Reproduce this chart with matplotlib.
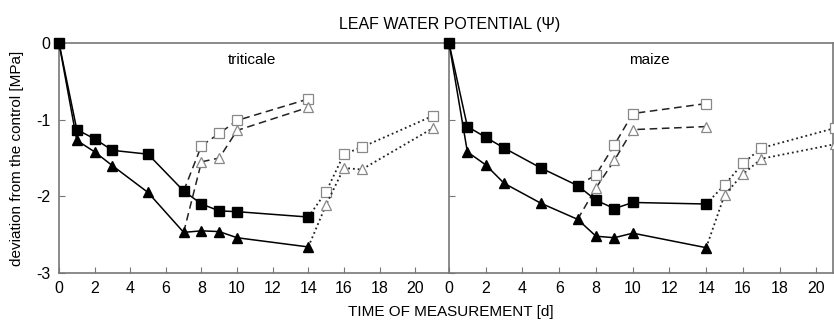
import numpy as np
import matplotlib.pyplot as plt

plt.rcParams['font.family'] = ['Liberation Sans', 'DejaVu Sans']

# drought phase (solid, filled markers)
days_stress = [0, 1, 2, 3, 5, 7, 8, 9, 10, 14]
# recovery after day 7 (dashed) and after day 14 (dotted)
days_rec7 = [7, 8, 9, 10, 14]
days_rec14 = [14, 15, 16, 17, 21]

tri_sq = [0, -1.13, -1.25, -1.40, -1.45, -1.93, -2.10, -2.19, -2.20, -2.27]
tri_tr = [0, -1.27, -1.42, -1.60, -1.95, -2.47, -2.45, -2.46, -2.54, -2.66]
tri_sq_r7 = [-1.93, -1.34, -1.18, -1.01, -0.73]
tri_tr_r7 = [-2.47, -1.55, -1.50, -1.14, -0.84]
tri_sq_r14 = [-2.27, -1.94, -1.45, -1.36, -0.95]
tri_tr_r14 = [-2.66, -2.11, -1.63, -1.65, -1.11]

mai_sq = [0, -1.09, -1.23, -1.37, -1.63, -1.86, -2.05, -2.16, -2.08, -2.10]
mai_tr = [0, -1.42, -1.59, -1.83, -2.09, -2.30, -2.52, -2.54, -2.48, -2.67]
mai_sq_r7 = [-1.86, -1.72, -1.33, -0.92, -0.79]
mai_tr_r7 = [-2.30, -1.89, -1.53, -1.13, -1.09]
mai_sq_r14 = [-2.10, -1.85, -1.57, -1.37, -1.11]
mai_tr_r14 = [-2.67, -1.98, -1.71, -1.51, -1.32]

fig = plt.figure(figsize=(8.34, 3.2), dpi=100)
W, H = 834, 320
ax1 = fig.add_axes([59/W, 1-273/H, 390/W, 230/H])
ax2 = fig.add_axes([449/W, 1-273/H, 384/W, 230/H])

spine_col = '#777777'
open_col = '#888888'

def draw(ax, sq, tr, sq7, tr7, sq14, tr14):
    ax.plot(days_stress, sq, '-', color='black', lw=1.1, marker='s', ms=6.5,
            mfc='black', mec='black', clip_on=False, zorder=5)
    ax.plot(days_stress, tr, '-', color='black', lw=1.1, marker='^', ms=6.5,
            mfc='black', mec='black', clip_on=False, zorder=5)
    ax.plot(days_rec7, sq7, '--', color='#222222', lw=1.1, dashes=(5, 3),
            marker='s', ms=6.5, mfc='white', mec=open_col, mew=0.9, markevery=[1, 2, 3, 4], zorder=4)
    ax.plot(days_rec7, tr7, '--', color='#222222', lw=1.1, dashes=(5, 3),
            marker='^', ms=6.5, mfc='white', mec=open_col, mew=0.9, markevery=[1, 2, 3, 4], zorder=4)
    ax.plot(days_rec14, sq14, ':', color='#222222', lw=1.3,
            marker='s', ms=6.5, mfc='white', mec=open_col, mew=0.9, markevery=[1, 2, 3, 4], zorder=4)
    ax.plot(days_rec14, tr14, ':', color='#222222', lw=1.3,
            marker='^', ms=6.5, mfc='white', mec=open_col, mew=0.9, markevery=[1, 2, 3, 4], zorder=4)
    ax.set_ylim(-3, 0)
    ax.set_xticks(range(0, 21, 2))
    ax.set_yticks([0, -1, -2, -3])
    ax.tick_params(direction='in', length=4, color=spine_col, labelsize=11.5, pad=6)
    for s in ax.spines.values():
        s.set_color(spine_col)
        s.set_linewidth(1.2)

draw(ax1, tri_sq, tri_tr, tri_sq_r7, tri_tr_r7, tri_sq_r14, tri_tr_r14)
draw(ax2, mai_sq, mai_tr, mai_sq_r7, mai_tr_r7, mai_sq_r14, mai_tr_r14)

ax1.set_xlim(0, 21.9)
ax2.set_xlim(0, 20.9)
ax1.spines['right'].set_visible(False)
ax1.set_yticklabels(['0', '-1', '-2', '-3'])
ax2.tick_params(labelleft=False)

ax1.text(0.495, 0.926, 'triticale', transform=ax1.transAxes, ha='center', va='center', fontsize=11)
ax2.text(0.523, 0.926, 'maize', transform=ax2.transAxes, ha='center', va='center', fontsize=11)

fig.text(450/W, 1-25/H, 'LEAF WATER POTENTIAL (\u03a8)', ha='center', va='center', fontsize=11.5)
fig.text(451/W, 1-312/H, 'TIME OF MEASUREMENT [d]', ha='center', va='center', fontsize=11)
fig.text(17/W, 1-158/H, 'deviation from the control [MPa]', rotation=90,
         ha='center', va='center', fontsize=11)

fig.savefig('out.png', dpi=100)
